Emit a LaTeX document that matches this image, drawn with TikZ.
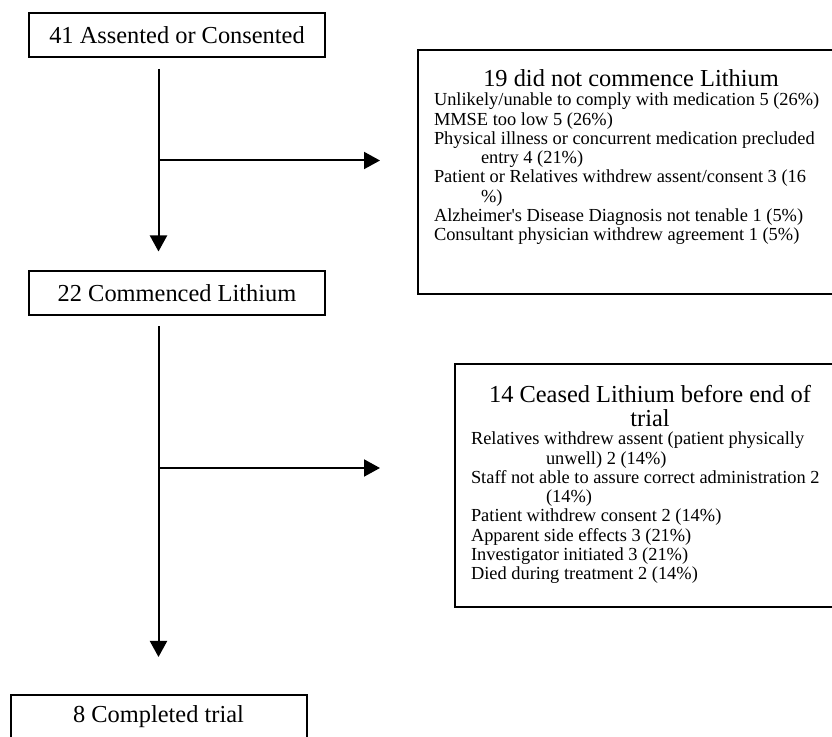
\documentclass[tikz,border=0pt]{standalone}
\usepackage{fontspec}
\setmainfont{Liberation Serif}
\usetikzlibrary{arrows.meta}

\begin{document}
\begin{tikzpicture}[x=0.5pt,y=-0.5pt,line width=1pt,
  stagebox/.style={rectangle,draw,minimum width=148pt,minimum height=22pt,inner sep=0pt,font=\fontsize{12.2}{12}\selectfont},
  sidebox/.style={rectangle,draw,inner sep=0pt,anchor=north west},
  sidehead/.style={inner sep=0pt,align=center,font=\fontsize{12.2}{12}\selectfont},
  sidelist/.style={inner sep=0pt,align=left,anchor=north west,font=\fontsize{9.2}{9.65}\selectfont},
  flow/.style={-{Triangle[width=8.5pt,length=8pt]}}]

    \useasboundingbox (0,0) rectangle (832,737);

    \node[stagebox] (start) at (177,35) {41 Assented or Consented};
    \node[stagebox] (cont) at (177,293.5) {22 Commenced Lithium};
    \node[stagebox] (done) at (158.5,717) {8 Completed trial};

    \node[sidebox,minimum width=214pt,minimum height=122pt] (excl) at (417,49) {};
    \node[sidehead,anchor=base] (exclhead) at (631,87) {19 did not commence Lithium};
    \node[sidelist] (excllist) at (433,92) {Unlikely/unable to comply with medication 5 (26\%)\\
        MMSE too low 5 (26\%)\\
        Physical illness or concurrent medication precluded\\
        \hspace*{23.5pt}entry 4 (21\%)\\
        Patient or Relatives withdrew assent/consent 3 (16\\
        \hspace*{23.5pt}\%)\\
        Alzheimer\textquotesingle s Disease Diagnosis not tenable 1 (5\%)\\
        Consultant physician withdrew agreement 1 (5\%)};

    \node[sidebox,minimum width=196pt,minimum height=121.5pt] (ceased) at (454,363) {};
    \node[sidehead,anchor=north] (ceasedhead) at (650,384) {14 Ceased Lithium before end of\\trial};
    \node[sidelist] (ceasedlist) at (470,431) {Relatives withdrew assent (patient physically\\
        \hspace*{37.5pt}unwell) 2 (14\%)\\
        Staff not able to assure correct administration 2\\
        \hspace*{37.5pt}(14\%)\\
        Patient withdrew consent 2 (14\%)\\
        Apparent side effects 3 (21\%)\\
        Investigator initiated 3 (21\%)\\
        Died during treatment 2 (14\%)};

    \coordinate (fork1) at (158.5,160.5);
    \coordinate (fork2) at (158.5,468);

    \draw[flow,shorten <=5.5pt,shorten >=9.5pt] (start.south -| done.north) -- (cont.north -| done.north);
    \draw[flow,shorten <=5pt,shorten >=18.5pt] (cont.south -| done.north) -- (done.north);
    \draw[flow,shorten >=18.5pt] (fork1) -- (fork1 -| excl.west);
    \draw[flow,shorten >=37pt] (fork2) -- (fork2 -| ceased.west);
\end{tikzpicture}
\end{document}
